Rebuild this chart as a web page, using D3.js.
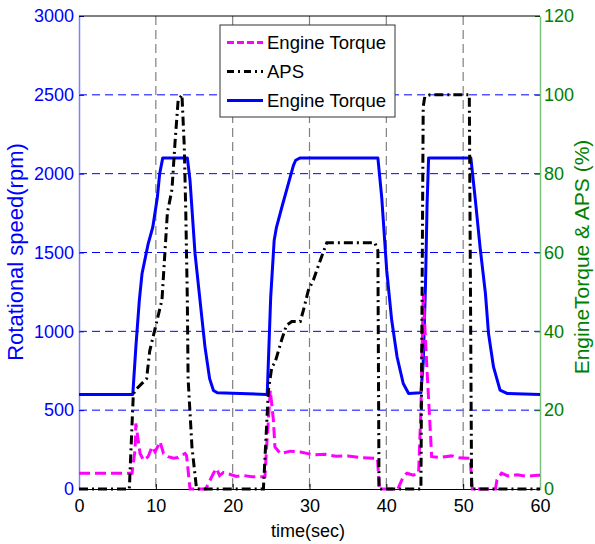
<!DOCTYPE html>
<html>
<head>
<meta charset="utf-8">
<script src="https://cdn.jsdelivr.net/npm/d3@7"></script>
<style>
  body { margin: 0; background: #fff; }
  text { font-family: "Liberation Sans", Arial, sans-serif; }
</style>
</head>
<body>
<div class="canvas"></div>
<script>
// rotational speed (rpm), left axis
const speedTime = [0, 7.0, 7.4, 7.85, 8.2, 9.0, 9.6, 10.2, 10.5, 10.9, 14.1, 14.45, 15.1, 15.75, 16.4, 17.0, 17.5, 18.0, 21.0, 24.4,
  24.5, 24.95, 25.4, 25.7, 26.4, 27.0, 27.9, 28.2, 28.8, 38.9, 39.4, 40.05, 40.7, 41.4, 42.2, 42.9, 44.5,
  44.8, 45.1, 45.3, 45.5, 51.0, 51.55, 52.2, 52.9, 53.3, 53.95, 54.8, 55.7, 60]
const speedRpm = [600, 600, 900, 1196, 1365, 1555, 1660, 1850, 2000, 2100, 2100, 1956, 1494, 1196, 900, 700, 625, 610, 605, 600,
  605, 1217, 1576, 1660, 1787, 1893, 2051, 2085, 2100, 2100, 1850, 1386, 1070, 837, 669, 606, 610,
  800, 1300, 1800, 2100, 2100, 1850, 1534, 1239, 986, 774, 627, 606, 600]

// APS (%), right axis
const apsTime = [0, 6.55, 7.07, 7.3, 8.8, 9.2, 10.8, 11.5, 12.1, 12.5, 12.9, 13.4, 13.7, 13.9, 14.1, 14.2, 14.7, 15.3,
  24.0, 24.65, 25.1, 25.5, 26.4, 27.0, 27.7, 28.8, 29.2, 29.85, 30.5, 31.4, 32.25, 38.5, 38.9, 39.05,
  44.5, 44.8, 45.0, 45.7, 50.8, 51.1, 60]
const apsPct = [0, 0, 24, 25, 28, 35, 48, 70, 76, 88, 98.5, 100, 87, 70, 48, 28, 10.7, 0,
  0, 25, 31, 32, 38, 41.5, 42.5, 42.5, 45.3, 50.4, 53, 58, 62.5, 62.5, 60.5, 0,
  0, 97, 99.5, 100, 100, 0, 0]

// engine torque (%), right axis
const torqueTime = [0, 6.9, 7.3, 7.4, 7.95, 8.4, 9.0, 9.5, 9.9, 10.55, 11.0, 11.6, 12.3, 12.9, 13.4, 13.8, 14.0, 14.45,
  16.5, 17.5, 17.9, 18.3, 18.8, 19.5, 20.5, 21.5, 22.5, 24.2,
  24.4, 24.9, 25.3, 25.5, 26.2, 27.5, 28.8, 30.5, 32, 33.5, 35, 36.5, 38.5, 38.85, 39.1,
  41.5, 42.2, 42.7, 43.5, 44.2, 44.5, 44.8, 45.3, 45.6, 45.9, 47, 48.5, 49.5, 50.7, 50.9, 51.2,
  54.2, 54.4, 55.0, 55.8, 57, 58.3, 59.6, 60]
const torquePct = [4, 4, 10, 16.6, 9.0, 7.3, 8.2, 10.7, 9.4, 12, 9.0, 8.2, 7.8, 8.0, 8.6, 9.0, 8.5, 0,
  0, 4, 5.2, 3.4, 4.2, 3.8, 3.2, 3.4, 3.1, 3.1,
  10, 25, 17.5, 10.7, 9.0, 9.6, 9.4, 8.7, 8.8, 8.3, 8.4, 8.0, 7.8, 7.8, 0,
  0, 3.1, 4, 3.5, 4, 20, 49.5, 30, 19.2, 8.2, 8.0, 8.4, 7.9, 7.8, 7.8, 0,
  0, 2.3, 4, 3.3, 3.6, 3.2, 3.5, 3.5]

const xTicks = [0, 10, 20, 30, 40, 50, 60]
const leftTicks = [0, 500, 1000, 1500, 2000, 2500, 3000]
const rightTicks = [0, 20, 40, 60, 80, 100, 120]
const legendLabels = ['Engine Torque', 'APS', 'Engine Torque']

const margin = { top: 16, right: 55, bottom: 55, left: 79 }
const graphWidth = 595 - margin.left - margin.right
const graphHeight = 544 - margin.top - margin.bottom

const svg = d3.select('.canvas')
    .append('svg')
    .attr('width', 595)
    .attr('height', 544)

const graph = svg.append('g')
    .attr('transform', `translate(${margin.left}, ${margin.top})`)

const xScale = d3.scaleLinear().domain([0, 60]).range([0, graphWidth])
const yLeft = d3.scaleLinear().domain([0, 3000]).range([graphHeight, 0])
const yRight = d3.scaleLinear().domain([0, 120]).range([graphHeight, 0])

// grid
graph.append('g')
    .selectAll('line')
    .data(leftTicks.slice(1, -1))
    .enter().append('line')
        .attr('x1', 0).attr('x2', graphWidth)
        .attr('y1', d => yLeft(d)).attr('y2', d => yLeft(d))
        .attr('stroke', '#0000ff').attr('stroke-width', 1)
        .attr('stroke-dasharray', '8,5')

graph.append('g')
    .selectAll('line')
    .data(xTicks.slice(1, -1))
    .enter().append('line')
        .attr('x1', d => xScale(d)).attr('x2', d => xScale(d))
        .attr('y1', 0).attr('y2', graphHeight)
        .attr('stroke', '#808080').attr('stroke-width', 1.2)
        .attr('stroke-dasharray', '9,5')

// axes
const fmt = d3.format('d')
const xAxis = d3.axisBottom(xScale).tickValues(xTicks).tickFormat(fmt).tickSizeInner(-5).tickSizeOuter(0).tickPadding(10)
const yAxisL = d3.axisLeft(yLeft).tickValues(leftTicks).tickFormat(fmt).tickSizeInner(-5).tickSizeOuter(0).tickPadding(5)
const yAxisR = d3.axisRight(yRight).tickValues(rightTicks).tickFormat(fmt).tickSizeInner(-5).tickSizeOuter(0).tickPadding(4)

const xAxisGroup = graph.append('g')
    .attr('transform', `translate(0, ${graphHeight})`)
    .call(xAxis)
xAxisGroup.select('.domain').attr('stroke', '#000')
xAxisGroup.selectAll('text').attr('font-size', 18).attr('fill', '#000')

const yAxisGroupL = graph.append('g').call(yAxisL)
yAxisGroupL.select('.domain').attr('stroke', '#8080ff').attr('stroke-width', 1.5)
yAxisGroupL.selectAll('line').attr('stroke', '#0000ff')
yAxisGroupL.selectAll('text').attr('font-size', 18).attr('fill', '#0000ff')

const yAxisGroupR = graph.append('g')
    .attr('transform', `translate(${graphWidth}, 0)`)
    .call(yAxisR)
yAxisGroupR.select('.domain').attr('stroke', '#80c080').attr('stroke-width', 1.5)
yAxisGroupR.selectAll('line').attr('stroke', '#008000')
yAxisGroupR.selectAll('text').attr('font-size', 18).attr('fill', '#008000')

// top border
graph.append('line')
    .attr('x1', 0).attr('x2', graphWidth)
    .attr('y1', 0).attr('y2', 0)
    .attr('stroke', '#000').attr('stroke-width', 1)

// lines
const speedLine = d3.line()
    .x((d, i) => xScale(speedTime[i]))
    .y(d => yLeft(d))
const pctLine = times => d3.line()
    .x((d, i) => xScale(times[i]))
    .y(d => yRight(d))

graph.append('path')
    .datum(speedRpm)
    .attr('fill', 'none')
    .attr('stroke', '#0000ff')
    .attr('stroke-width', 3)
    .attr('stroke-linejoin', 'round')
    .attr('d', speedLine)

graph.append('path')
    .datum(torquePct)
    .attr('fill', 'none')
    .attr('stroke', '#ff00ff')
    .attr('stroke-width', 3)
    .attr('stroke-dasharray', '11,5')
    .attr('d', pctLine(torqueTime))

graph.append('path')
    .datum(apsPct)
    .attr('fill', 'none')
    .attr('stroke', '#000')
    .attr('stroke-width', 3)
    .attr('stroke-dasharray', '9,4,2,4')
    .attr('d', pctLine(apsTime))

// axis titles
svg.append('text')
    .attr('transform', `translate(23, 252) rotate(-90)`)
    .attr('text-anchor', 'middle')
    .attr('font-size', 22)
    .attr('fill', '#0000ff')
    .text('Rotational speed(rpm)')

svg.append('text')
    .attr('transform', `translate(589, 257) rotate(-90)`)
    .attr('text-anchor', 'middle')
    .attr('font-size', 21)
    .attr('fill', '#008000')
    .text('EngineTorque & APS (%)')

svg.append('text')
    .attr('x', 308)
    .attr('y', 537)
    .attr('text-anchor', 'middle')
    .attr('font-size', 18)
    .attr('fill', '#000')
    .text('time(sec)')

// legend
const legendStyles = [
    { color: '#ff00ff', dash: '7,3' },
    { color: '#000', dash: '7,4,2,4' },
    { color: '#0000ff', dash: null }
]
const legend = svg.append('g').attr('transform', 'translate(220, 25)')
legend.append('rect')
    .attr('width', 175).attr('height', 92)
    .attr('fill', '#fff').attr('stroke', '#333').attr('stroke-width', 1)

legendLabels.forEach((label, i) => {
    const y = 17.5 + i * 29
    legend.append('line')
        .attr('x1', 7).attr('x2', 43)
        .attr('y1', y).attr('y2', y)
        .attr('stroke', legendStyles[i].color)
        .attr('stroke-width', 3)
        .attr('stroke-dasharray', legendStyles[i].dash)
    legend.append('text')
        .attr('x', 47).attr('y', y + 6.5)
        .attr('font-size', 18.5)
        .attr('fill', '#000')
        .text(label)
})
</script>
</body>
</html>
